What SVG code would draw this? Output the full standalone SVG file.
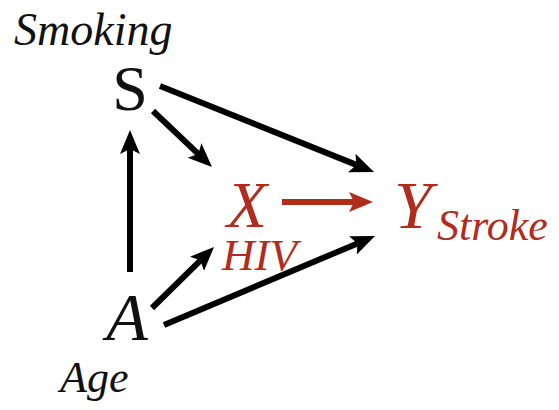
<svg xmlns="http://www.w3.org/2000/svg" width="559" height="410" viewBox="0 0 559 410">
<defs>
<marker id="ah" markerUnits="userSpaceOnUse" markerWidth="26" markerHeight="22" refX="5" refY="10" orient="auto" viewBox="0 0 26 22">
<path d="M0,0 L24,10 L0,20 L5,10 z" fill="#000"/>
</marker>
<marker id="ahr" markerUnits="userSpaceOnUse" markerWidth="26" markerHeight="22" refX="5" refY="10" orient="auto" viewBox="0 0 26 22">
<path d="M0,0 L24,10 L0,20 L5,10 z" fill="#b02d1e"/>
</marker>
</defs>
<rect width="559" height="410" fill="#fff"/>
<g id="connectors" stroke="#000" stroke-width="6" fill="none">
<line x1="160" y1="86" x2="356.4" y2="164.9" marker-end="url(#ah)"/>
<line x1="153" y1="111" x2="198.2" y2="153.9" marker-end="url(#ah)"/>
<line x1="130" y1="272" x2="130" y2="149" marker-end="url(#ah)"/>
<line x1="152" y1="308" x2="200.5" y2="260.3" marker-end="url(#ah)"/>
<line x1="164" y1="325" x2="357.5" y2="243.4" marker-end="url(#ah)"/>
<line x1="282" y1="202" x2="354" y2="202" stroke="#b02d1e" marker-end="url(#ahr)"/>
</g>
<g id="node-S" fill="#111">
<text x="14" y="45" font-size="46" font-family="Times New Roman, Liberation Serif, serif" font-style="italic">Smoking</text>
<text x="130" y="110" font-size="64" font-family="Times New Roman, Liberation Serif, serif" text-anchor="middle">S</text>
</g>
<g id="node-A" fill="#111">
<text x="127" y="340" font-size="68" font-family="Times New Roman, Liberation Serif, serif" font-style="italic" text-anchor="middle">A</text>
<text x="60" y="392" font-size="44" font-family="Times New Roman, Liberation Serif, serif" font-style="italic">Age</text>
</g>
<g id="node-X" fill="#b02d1e">
<text x="247" y="227" font-size="66" font-family="Times New Roman, Liberation Serif, serif" font-style="italic" text-anchor="middle">X</text>
<text x="222" y="270" font-size="45" font-family="Times New Roman, Liberation Serif, serif" font-style="italic">HIV</text>
</g>
<g id="node-Y" fill="#b02d1e">
<text x="413" y="228" font-size="68" font-family="Times New Roman, Liberation Serif, serif" font-style="italic" text-anchor="middle">Y</text>
<text x="437" y="240" font-size="44" font-family="Times New Roman, Liberation Serif, serif" font-style="italic">Stroke</text>
</g>
</svg>
